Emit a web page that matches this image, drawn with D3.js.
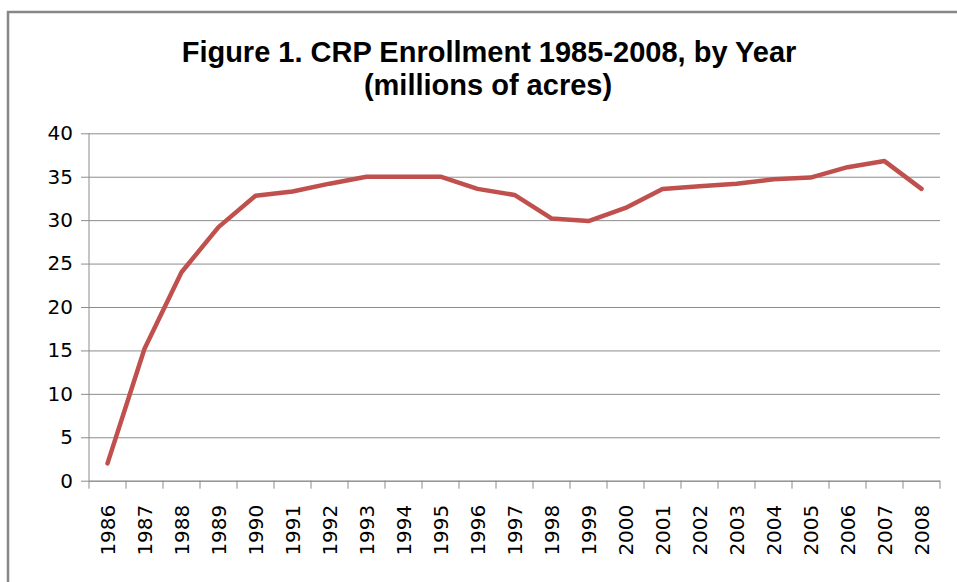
<!DOCTYPE html>
<html><head><meta charset="utf-8">
<script src="https://cdn.jsdelivr.net/npm/d3@7"></script>
<style>body{margin:0;background:#fff;}svg{display:block;}</style>
</head><body>
<svg id="c" width="957" height="582"></svg>
<script>
const years = ["1986","1987","1988","1989","1990","1991","1992","1993","1994","1995","1996","1997","1998","1999","2000","2001","2002","2003","2004","2005","2006","2007","2008"];
const enrollment = [2.0,15.2,24.0,29.2,32.8,33.3,34.2,35.0,35.0,35.0,33.6,32.9,30.2,29.9,31.4,33.6,33.9,34.2,34.7,34.9,36.1,36.8,33.6];
const yTicks = [0,5,10,15,20,25,30,35,40];
const titleLines = ["Figure 1. CRP Enrollment 1985-2008, by Year","(millions of acres)"];

const svg = d3.select("#c");
const L = 89, R = 940, T = 133.3, B = 480.7;
const x = d3.scaleBand().domain(years).range([L, R]);
const y = d3.scaleLinear().domain([0, 40]).range([B, T]);

// outer border
svg.append("path").attr("d", `M8,600 V12 H970`).attr("fill","none").attr("stroke","#878787").attr("stroke-width",2.5);

// title
svg.append("text").attr("x",489).attr("y",62).attr("text-anchor","middle")
  .attr("font-family","Liberation Sans, Arial, sans-serif").attr("font-weight","bold").attr("font-size",29)
  .text(titleLines[0]);
svg.append("text").attr("x",488).attr("y",95).attr("text-anchor","middle")
  .attr("font-family","Liberation Sans, Arial, sans-serif").attr("font-weight","bold").attr("font-size",29)
  .text(titleLines[1]);

// gridlines + y axis
const yAxis = d3.axisLeft(y).tickValues(yTicks).tickSize(-(R - L)).tickPadding(16);
const gy = svg.append("g").attr("transform",`translate(${L},0)`).call(yAxis);
gy.select(".domain").remove();
gy.selectAll(".tick line").attr("stroke","#8c8c8c").attr("x1",-8);
gy.selectAll(".tick text").attr("font-family","DejaVu Sans, Verdana, sans-serif").attr("font-size",20).attr("fill","#000");

// y axis line
svg.append("line").attr("x1",L).attr("x2",L).attr("y1",T).attr("y2",B).attr("stroke","#8c8c8c");

// x axis
const xAxis = d3.axisBottom(x).tickSize(0).tickPadding(0);
const gx = svg.append("g").attr("transform",`translate(0,${B})`).call(xAxis);
gx.select(".domain").attr("stroke","#8c8c8c").attr("d",`M${L},0.5H${R}`);
gx.selectAll(".tick text").attr("font-family","DejaVu Sans, Verdana, sans-serif").attr("font-size",20).attr("fill","#000")
  .attr("text-anchor","end").attr("dy","0.35em").attr("transform","translate(0,24) rotate(-90)");
// tick marks at band boundaries
const bounds = years.map(d => x(d)).concat([R]);
svg.append("g").selectAll("line").data(bounds).join("line")
  .attr("x1", d => d).attr("x2", d => d).attr("y1", B).attr("y2", B + 8)
  .attr("stroke","#8c8c8c");

// line
const line = d3.line().x((d,i) => x(years[i]) + x.bandwidth()/2).y(d => y(d));
svg.append("path").datum(enrollment).attr("d", line).attr("fill","none")
  .attr("stroke","#C0504D").attr("stroke-width",4.5).attr("stroke-linejoin","round").attr("stroke-linecap","round");
</script>
</body></html>
